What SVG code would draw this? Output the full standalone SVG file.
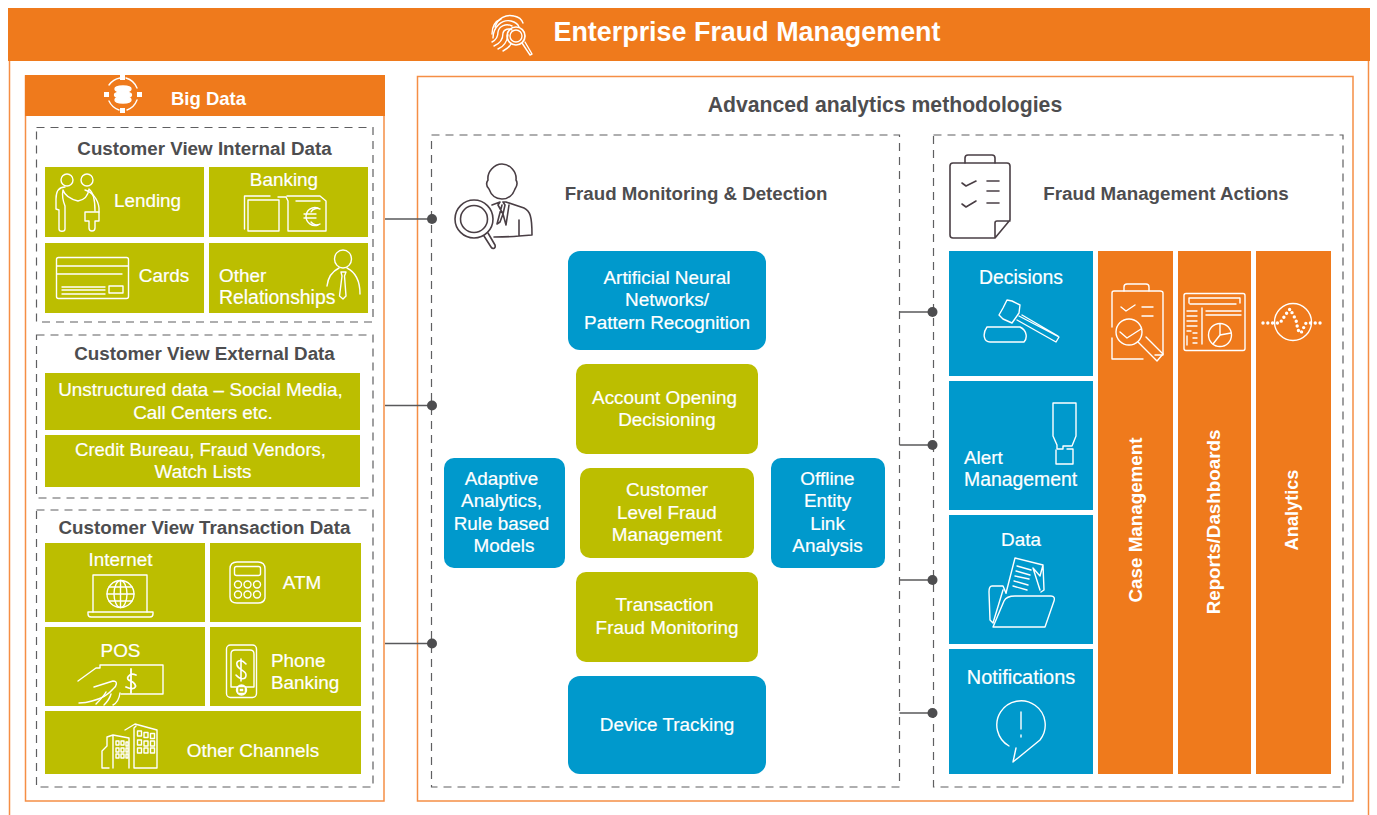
<svg xmlns="http://www.w3.org/2000/svg" width="1377" height="815" viewBox="0 0 1377 815">
<style>
text{font-family:"Liberation Sans",Arial,sans-serif}
.h{font-weight:700;fill:#4d4d4f;text-anchor:middle}
.t{fill:#fff;font-size:18.9px;text-anchor:middle;stroke:#fff;stroke-width:.2}
.b{fill:#fff;font-weight:700;text-anchor:middle}
.ol{fill:#bcbe00}.bl{fill:#0099cc}.or{fill:#ef7a1c}
.d{fill:none;stroke:#5f5f61;stroke-width:1.2;stroke-dasharray:8 6}
.f{fill:#fff;stroke:#f58e45;stroke-width:1.5}
.i{fill:none;stroke:#fff;stroke-width:1.4;stroke-linejoin:round;stroke-linecap:round}
.k{fill:none;stroke:#4a3f45;stroke-width:1.6;stroke-linejoin:round;stroke-linecap:round}
.c{stroke:#59595b;stroke-width:1.3;fill:none}
.p{fill:#4d4d4f}
</style>
<rect width="1377" height="815" fill="#fff"/>
<path d="M9.500 61V815M1368.500 61V815" stroke="#f58e45" stroke-width="1.500" fill="none"/>

<g id="header">
<rect class="or" x="8" y="8" width="1362" height="53"/>
<g class="i">
<path d="M495 27C498 18 506 14 514 16C519 17 522 20 523 23"/><path d="M492 34C492 26 496 21 501 19"/><path d="M493 38C493 27 502 19 511 21C515 22 518 24 519 27"/><path d="M492 42C496 40 498 37 498 32C499 26 506 23 512 26"/><path d="M494 46C499 44 503 40 503 33C504 29 509 28 512 30"/><path d="M498 49C503 47 507 42 508 35"/><path d="M503 51C507 49 510 46 511 44"/>
<circle cx="516" cy="36" r="9" stroke-width="1.700"/><circle cx="516" cy="36" r="6"/><path d="M522 43L530 55L532 54L525 42"/>
</g>
<text class="b" x="747" y="41" font-size="26.900">Enterprise Fraud Management</text>
</g>

<g id="big-data">
<rect class="f" x="25.500" y="76" width="358.500" height="725"/>
<rect class="or" x="25" y="75" width="360" height="41"/>
<g class="i"><path d="M109 85A17 17 0 0 1 120 78M126 78A17 17 0 0 1 137 88M137 100A17 17 0 0 1 127 110M119 110A17 17 0 0 1 109 101"/>
<ellipse cx="123" cy="89" rx="8" ry="3" fill="#fff"/><ellipse cx="123" cy="95" rx="8.500" ry="3" fill="#fff"/><ellipse cx="123" cy="100" rx="8" ry="3" fill="#fff"/></g>
<g fill="#fff"><rect x="120" y="75" width="5" height="5"/><rect x="120" y="108" width="5" height="5"/><rect x="104" y="92" width="5" height="5"/><rect x="137" y="92" width="5" height="5"/></g>
<text class="b" x="208.500" y="105" font-size="18.500">Big Data</text>
</g>

<g id="internal-data">
<rect class="d" x="36.500" y="127.500" width="336.500" height="194.500"/>
<text class="h" x="204.500" y="155" font-size="18.800">Customer View Internal Data</text>
<g id="lending"><rect class="ol" x="45" y="167" width="159" height="70"/>
<g class="i"><circle cx="67" cy="180" r="6"/><circle cx="87" cy="180" r="6"/><path d="M65 187C58 187 56 192 56 199V209L59 210V229C59 232 65 232 65 229V206C63 201 62 195 63 190C65 196 70 199 78 201C84 200 88 197 89 189C93 192 95 200 95 211"/><path d="M85 190C92 192 98 199 99 208V212"/><path d="M85 212H99V221H95V228C95 232 89 232 89 228V221H85Z"/></g>
<text class="t" x="147.500" y="207">Lending</text></g>
<g id="banking"><rect class="ol" x="209" y="167" width="159" height="70"/>
<g class="i"><path d="M244.500 229V196H270M248 231V200H279V231H248M278 197L286 197L288 201V231H326V201L320 196H293L287 196M296 201H320"/><path d="M318 208A9 9 0 1 0 318 225M304 214H316M304 218H316"/><path d="M320 209A7 7 0 0 0 311 212M311 222A7 7 0 0 0 320 224"/></g>
<text class="t" x="284" y="186">Banking</text></g>
<g id="cards"><rect class="ol" x="45" y="243" width="159" height="70"/>
<g class="i"><rect x="56.500" y="257.500" width="72" height="41" rx="2"/><path d="M57 266H128M57 274H122M62 287H105M62 290H105M62 294H105"/><rect x="109" y="286" width="14" height="7"/></g>
<text class="t" x="164" y="282">Cards</text></g>
<g id="other-relationships"><rect class="ol" x="209" y="243" width="159" height="70"/>
<g class="i"><ellipse cx="343" cy="259" rx="8.500" ry="9"/><path d="M327 286C328 277 333 271 339 268M360 294C360 280 355 272 347 268"/><path d="M341 272H346L344.500 276L346 296L343 299L339.500 296L342 276Z"/></g>
<text class="t" x="219" y="282" style="text-anchor:start">Other</text><text class="t" x="219" y="304" style="text-anchor:start;font-size:19.400px">Relationships</text></g>
</g>

<g id="external-data">
<rect class="d" x="36.500" y="335" width="336.500" height="163"/>
<text class="h" x="204.500" y="360" font-size="18.800">Customer View External Data</text>
<g id="unstructured"><rect class="ol" x="45" y="373" width="315" height="57"/>
<text class="t" x="200.500" y="396">Unstructured data – Social Media,</text><text class="t" x="203" y="419">Call Centers etc.</text></g>
<g id="credit-bureau"><rect class="ol" x="45" y="435" width="315" height="52"/>
<text class="t" x="200.500" y="456" style="font-size:18.500px">Credit Bureau, Fraud Vendors,</text><text class="t" x="203" y="478">Watch Lists</text></g>
</g>

<g id="transaction-data">
<rect class="d" x="36.500" y="510" width="336.500" height="277"/>
<text class="h" x="204.500" y="534" font-size="18.800">Customer View Transaction Data</text>
<g id="internet"><rect class="ol" x="45" y="543" width="160" height="79"/>
<g class="i"><path d="M93 612V575H147V612"/><path d="M88 612H153V614Q153 617 150 617H91Q88 617 88 614Z"/><circle cx="120.500" cy="594" r="13.500"/><ellipse cx="120.500" cy="594" rx="6.500" ry="13.500"/><path d="M120.500 580.500V607.500M107 594H134M109 587H132M109 601H132"/></g>
<text class="t" x="120.500" y="566">Internet</text></g>
<g id="atm"><rect class="ol" x="210" y="543" width="151" height="79"/>
<g class="i"><path d="M265 598V569Q265 562 258 562H237Q230 562 230 569V597Q230 603 237 603H258Q264 603 265 598"/><rect x="234.500" y="566.500" width="26" height="9" rx="2"/><circle cx="238" cy="584.500" r="3.500"/><circle cx="247.500" cy="584.500" r="3.500"/><circle cx="257" cy="584.500" r="3.500"/><circle cx="238" cy="594.500" r="3.500"/><circle cx="247.500" cy="594.500" r="3.500"/><circle cx="257" cy="594.500" r="3.500"/></g>
<text class="t" x="302" y="589">ATM</text></g>
<g id="pos"><rect class="ol" x="45" y="627" width="160" height="79"/>
<g class="i"><path d="M78 681L96 668H100V665H163V694H121"/><path d="M94 687L113 681C118 681 117 686 113 689C109 694 104 698 92 701C86 703 82 703 79 703"/><path d="M96 704C100 700 104 696 106 692M104 705C108 701 110 698 111 694M113 705C117 703 119 700 120 693"/><path d="M136 675C129 672 124 680 131 681C138 684 137 692 126 687M131 669V693" stroke-width="1.800"/></g>
<text class="t" x="120.500" y="657">POS</text></g>
<g id="phone-banking"><rect class="ol" x="210" y="627" width="151" height="79"/>
<g class="i"><rect x="226.500" y="645" width="30" height="52.500" rx="4"/><path d="M231 687V654Q231 650 235 650H250Q254 650 254 654V687H231"/><circle cx="241.500" cy="690" r="5" fill="#fff"/><rect x="239" y="688" width="5" height="4" stroke="#bcbe00"/><path d="M246 664C241 658 236 661 237 665C238 670 246 670 246 675C246 680 240 680 236 675M241 659V681" stroke-width="1.600"/></g>
<text class="t" x="271" y="667" style="text-anchor:start">Phone</text><text class="t" x="271" y="689" style="text-anchor:start">Banking</text></g>
<g id="other-channels"><rect class="ol" x="45" y="711" width="316" height="63"/>
<g class="i"><path d="M102 768V751L107 746V737L113 735L129 738V768M113 735V768M102 768H109"/><path d="M134 768V728L136 726M125 730L135 724L157 730V768H134"/><rect x="137.500" y="731" width="4" height="5"/><rect x="144" y="732.500" width="4" height="5"/><rect x="150.500" y="733.500" width="4" height="5"/><rect x="137.500" y="740" width="4" height="5"/><rect x="144" y="741" width="4" height="5"/><rect x="150.500" y="741" width="4" height="5"/><rect x="137.500" y="748" width="4" height="5"/><rect x="144" y="748" width="4" height="5"/><rect x="150.500" y="748" width="4" height="5"/><rect x="116" y="741" width="3" height="4"/><rect x="121" y="741" width="3" height="4"/><rect x="126" y="742" width="2" height="4"/><rect x="116" y="748" width="3" height="4"/><rect x="121" y="748" width="3" height="4"/><rect x="126" y="748" width="2" height="4"/><rect x="116" y="754" width="3" height="4"/><rect x="121" y="754" width="3" height="4"/><rect x="126" y="754" width="2" height="4"/></g>
<text class="t" x="253" y="757">Other Channels</text></g>
</g>

<g id="advanced-analytics">
<rect class="f" x="417.500" y="76.500" width="935.500" height="724.500"/>
<text class="h" x="885" y="112" font-size="21.200">Advanced analytics methodologies</text>
</g>

<g id="fraud-monitoring">
<rect class="d" x="431.500" y="135" width="468" height="652"/>
<g class="k"><path d="M488 180C487 172 494 164 502 164C510 164 517 172 516 180C518 183 517 186 515 189C513 195 508 199 502 199C496 199 491 195 489 189C486 186 486 183 488 180Z"/>
<path d="M492 205L500 202L498 205L503 214L505 205L503 202L506 202L524 208C530 211 532 216 532 235L519 236V220M519 236C510 237 503 237 494 237M502 205L497 224L500 222L503 214L506 225L509 205"/>
<circle cx="474" cy="219" r="19"/><circle cx="474" cy="219" r="13.500"/><path d="M484 236L491 247C493 250 496 248 495 245L488 233"/></g>
<text class="h" x="696" y="200" font-size="18.700">Fraud Monitoring &amp; Detection</text>
</g>
<g id="neural-networks"><rect class="bl" x="568" y="251" width="198" height="99" rx="12"/>
<text class="t" x="667" y="284">Artificial Neural</text><text class="t" x="667" y="306">Networks/</text><text class="t" x="667" y="329">Pattern Recognition</text></g>
<g id="account-opening"><rect class="ol" x="576" y="364" width="182" height="90" rx="10"/>
<text class="t" x="664.500" y="404">Account Opening</text><text class="t" x="667" y="426">Decisioning</text></g>
<g id="adaptive-analytics"><rect class="bl" x="444" y="458" width="121" height="110" rx="10"/>
<text class="t" x="501.500" y="485">Adaptive</text><text class="t" x="501.500" y="507">Analytics,</text><text class="t" x="501.500" y="530">Rule based</text><text class="t" x="504" y="552">Models</text></g>
<g id="customer-level"><rect class="ol" x="580" y="468" width="174" height="90" rx="10"/>
<text class="t" x="667" y="496">Customer</text><text class="t" x="667" y="519">Level Fraud</text><text class="t" x="667" y="541">Management</text></g>
<g id="offline-entity"><rect class="bl" x="771" y="458" width="114" height="110" rx="10"/>
<text class="t" x="827.500" y="485">Offline</text><text class="t" x="827.500" y="507">Entity</text><text class="t" x="827.500" y="530">Link</text><text class="t" x="827.500" y="552">Analysis</text></g>
<g id="transaction-monitoring"><rect class="ol" x="576" y="572" width="182" height="90" rx="10"/>
<text class="t" x="664.500" y="611">Transaction</text><text class="t" x="667" y="634">Fraud Monitoring</text></g>
<g id="device-tracking"><rect class="bl" x="568" y="676" width="198" height="98" rx="12"/>
<text class="t" x="667" y="731">Device Tracking</text></g>

<g id="fraud-actions">
<rect class="d" x="933.500" y="135" width="409.500" height="652"/>
<g class="k"><path d="M995 163V158Q995 155 992 155H968Q965 155 965 158V163"/><path d="M995 238H953Q950 238 950 235V166Q950 163 953 163H1007Q1010 163 1010 166V220L995 238V223Q995 221 997 221H1010"/><path d="M962 183L966 186L976 181M962 204L966 207L976 201M987 181H999M987 191H999M987 203H999"/></g>
<text class="h" x="1166" y="200" font-size="18.800">Fraud Management Actions</text>
</g>
<g id="decisions"><rect class="bl" x="949" y="251" width="144" height="125"/>
<g class="i"><path d="M1007 300L1012 301L1020 305L1019 313L1012 323L1003 319L999 315L1003 308Z"/><path d="M1019 316L1059 337L1056 342L1017 320M1022 315L1058 336"/><path d="M987 327H1020C1028 331 1027 339 1024 342H990C984 342 982 334 987 327Z"/></g>
<text class="t" x="1021" y="284" style="font-size:19.400px">Decisions</text></g>
<g id="alert-management"><rect class="bl" x="949" y="381" width="144" height="129"/>
<g class="i"><path d="M1053 403H1076V436L1072 446H1063V449H1057V445L1053 436Z"/><path d="M1056 450V464H1073V449H1067"/></g>
<text class="t" x="964" y="464" style="text-anchor:start">Alert</text><text class="t" x="964" y="486" style="text-anchor:start;font-size:19.400px">Management</text></g>
<g id="data"><rect class="bl" x="949" y="515" width="144" height="129"/>
<g class="i"><path d="M1006 593L1003 586H992C989 586 989 590 989 592L990 620L993 623L1003 590"/><path d="M1006 593L1015 558L1043 565L1044 590L1041 592M1033 568L1040 576L1043 565M1033 568L1040 590"/><path d="M1017 566L1031 570M1016 571L1030 575M1015 576L1029 579M1014 581L1028 585M1013 586L1027 590"/><path d="M1015 596H1051C1054 596 1055 598 1054 601L1045 627H993L1004 601C1006 597 1009 596 1015 596Z"/></g>
<text class="t" x="1021" y="546">Data</text></g>
<g id="notifications"><rect class="bl" x="949" y="649" width="144" height="125"/>
<g class="i"><path d="M1009 746A24.200 24.200 0 1 1 1040 740L1013 762L1016 748"/><path d="M1021 712V729M1021 735V737"/></g>
<text class="t" x="1021" y="684" style="font-size:19.900px">Notifications</text></g>
<g id="case-management"><rect class="or" x="1098" y="251" width="75" height="523"/>
<g class="i"><path d="M1124 291V287Q1124 284 1127 284H1146Q1149 284 1149 287V291"/><path d="M1112 327V293Q1112 291 1114 291H1160Q1163 291 1163 293V355H1155M1143 359H1112V338"/><path d="M1121 307L1126 311L1135 305M1142 307H1153M1142 316H1153"/><circle cx="1129" cy="332" r="13"/><path d="M1120 332L1127 338L1141 329"/><path d="M1138 342L1157 361L1163 354L1146 337"/></g>
<text class="b" x="0" y="0" font-size="18.800" transform="translate(1142 520) rotate(-90)">Case Management</text></g>
<g id="reports-dashboards"><rect class="or" x="1178" y="251" width="73" height="523"/>
<g class="i"><rect x="1184" y="293.500" width="61" height="57" rx="2"/><path d="M1189 303V298H1240V303M1190 304H1236"/><path d="M1202 308V344M1206 311H1241M1206 315H1241M1187 311H1197M1187 316H1197M1187 321H1197M1187 326H1197M1187 331H1191M1193 333H1197M1193 338H1197M1193 343H1197M1187 336V345"/><circle cx="1220" cy="335" r="11.500"/><path d="M1220 324V335L1231 333M1220 335L1213 344"/></g>
<text class="b" x="0" y="0" font-size="18.800" transform="translate(1220 522) rotate(-90)">Reports/Dashboards</text></g>
<g id="analytics"><rect class="or" x="1256" y="251" width="75" height="523"/>
<circle class="i" cx="1293" cy="322" r="18.500"/>
<path d="M1263 323H1280L1286 314L1290 309L1296 320L1298 330L1301 333L1306 323H1323" fill="none" stroke="#fff" stroke-width="3.400" stroke-linecap="round" stroke-dasharray="0 4.800"/>
<text class="b" x="0" y="0" font-size="18.200" transform="translate(1298 510) rotate(-90)">Analytics</text></g>

<g id="connectors">
<path class="c" d="M385 219H432M385 405.500H432M385 643.500H432M899.500 312H932M899.500 445H932M899.500 580H932M899.500 713H932"/>
<g class="p"><circle cx="432" cy="219" r="5"/><circle cx="432" cy="405.500" r="5"/><circle cx="432" cy="643.500" r="5"/><circle cx="932.500" cy="312" r="5"/><circle cx="932.500" cy="445" r="5"/><circle cx="932.500" cy="580" r="5"/><circle cx="932.500" cy="713" r="5"/></g>
</g>
</svg>
